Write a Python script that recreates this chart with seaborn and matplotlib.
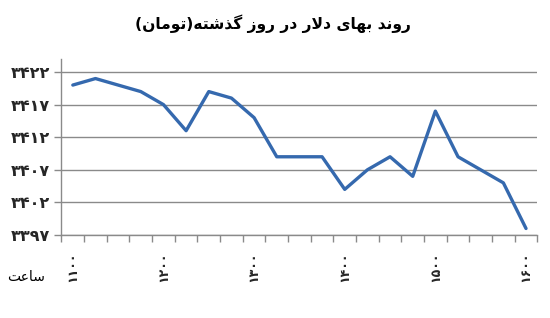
import numpy as np
import pandas as pd
import matplotlib
matplotlib.use("Agg")
import matplotlib.pyplot as plt
from matplotlib.ticker import FixedLocator
import seaborn as sns

# ---------------- data ----------------
times = ["11:00", "11:15", "11:30", "11:45", "12:00", "12:15", "12:30", "12:45",
         "13:00", "13:15", "13:30", "13:45", "14:00", "14:15", "14:30", "14:45",
         "15:00", "15:15", "15:30", "15:45", "16:00"]
prices = [3420, 3421, 3420, 3419, 3417, 3413, 3419, 3418,
          3415, 3409, 3409, 3409, 3404, 3407, 3409, 3406,
          3416, 3409, 3407, 3405, 3398]
hour_labels = ["1100", "1200", "1300", "1400", "1500", "1600"]
hour_times = ["11:00", "12:00", "13:00", "14:00", "15:00", "16:00"]
y_ticks = [3397, 3402, 3407, 3412, 3417, 3422]
title_text = "روند بهای دلار در روز گذشته(تومان)"
xlabel_text = "ساعت"

# ---------------- minimal Arabic/Persian shaping ----------------
FORMS = {
    "ا": ("\uFE8D", "\uFE8E"), "د": ("\uFEA9", "\uFEAA"), "ذ": ("\uFEAB", "\uFEAC"),
    "ر": ("\uFEAD", "\uFEAE"), "ز": ("\uFEAF", "\uFEB0"), "و": ("\uFEED", "\uFEEE"),
    "ب": ("\uFE8F", "\uFE90", "\uFE91", "\uFE92"),
    "ت": ("\uFE95", "\uFE96", "\uFE97", "\uFE98"),
    "س": ("\uFEB1", "\uFEB2", "\uFEB3", "\uFEB4"),
    "ش": ("\uFEB5", "\uFEB6", "\uFEB7", "\uFEB8"),
    "ع": ("\uFEC9", "\uFECA", "\uFECB", "\uFECC"),
    "ل": ("\uFEDD", "\uFEDE", "\uFEDF", "\uFEE0"),
    "م": ("\uFEE1", "\uFEE2", "\uFEE3", "\uFEE4"),
    "ن": ("\uFEE5", "\uFEE6", "\uFEE7", "\uFEE8"),
    "ه": ("\uFEE9", "\uFEEA", "\uFEEB", "\uFEEC"),
    "ی": ("\uFBFC", "\uFBFD", "\uFBFE", "\uFBFF"),
    "گ": ("\uFB92", "\uFB93", "\uFB94", "\uFB95"),
}


def dual(c):
    return c in FORMS and len(FORMS[c]) == 4


def shape(text):
    out = []
    i = 0
    n = len(text)
    while i < n:
        ch = text[i]
        prev = text[i - 1] if i > 0 else ""
        nxt = text[i + 1] if i + 1 < n else ""
        if ch not in FORMS:
            out.append(ch)
            i += 1
            continue
        jp = dual(prev)
        if ch == "ل" and nxt == "ا":
            out.append("\uFEFC" if jp else "\uFEFB")
            i += 2
            continue
        jn = dual(ch) and nxt in FORMS
        f = FORMS[ch]
        if jp and jn:
            out.append(f[3])
        elif jp:
            out.append(f[1])
        elif jn:
            out.append(f[2])
        else:
            out.append(f[0])
        i += 1
    mirror = {"(": ")", ")": "("}
    return "".join(mirror.get(c, c) for c in reversed(out))


FA_DIGITS = str.maketrans("0123456789", "۰۱۲۳۴۵۶۷۸۹")


def fa_num(s):
    return str(s).translate(FA_DIGITS)


# ---------------- plot ----------------
sns.set_theme(style="white")
plt.rcParams["font.family"] = ["DejaVu Sans"]

df = pd.DataFrame({"time": times, "price": prices})
df["pos"] = np.arange(len(df))

fig = plt.figure(figsize=(5.5, 3.18), dpi=100)
ax = fig.add_axes([0.1118, 0.261, 0.977 - 0.1118, 0.8145 - 0.261])

sns.lineplot(data=df, x="pos", y="price", ax=ax, color="#3569AE", linewidth=2.4,
             zorder=3)

ax.set_xlim(-0.5, len(times) - 0.5)
ax.set_ylim(3397, 3424)

ax.set_yticks(y_ticks)
ax.set_yticklabels([fa_num(v) for v in y_ticks], fontsize=11.5, fontweight="bold")
for v in y_ticks:
    ax.axhline(v, color="#8a8a8a", linewidth=1.0, zorder=1)

pos_of = {t: i for i, t in enumerate(times)}
ax.set_xticks([pos_of[t] for t in hour_times])
ax.set_xticklabels([fa_num(l) for l in hour_labels], rotation=90, fontsize=9,
                   fontweight="bold")
ax.xaxis.set_minor_locator(FixedLocator(np.arange(len(times) + 1) - 0.5))
ax.tick_params(axis="x", which="major", length=0, pad=12)
ax.tick_params(axis="x", which="minor", length=5, color="#8a8a8a", width=1,
               direction="out")
ax.tick_params(axis="y", length=5, color="#8a8a8a", width=1, pad=3,
               direction="out")
ax.xaxis.set_ticks_position("bottom")
ax.yaxis.set_ticks_position("left")

for s in ["top", "right"]:
    ax.spines[s].set_visible(False)
for s in ["left", "bottom"]:
    ax.spines[s].set_color("#8a8a8a")
    ax.spines[s].set_linewidth(1.0)

ax.set_xlabel("")
ax.set_ylabel("")

fig.text(0.497, 0.925, shape(title_text), ha="center", va="center",
         fontsize=11.2, fontweight="bold", color="black")
fig.text(0.047, 0.128, shape(xlabel_text), ha="center", va="center",
         fontsize=10, color="black")

fig.savefig("out.png", dpi=100, facecolor="white")
